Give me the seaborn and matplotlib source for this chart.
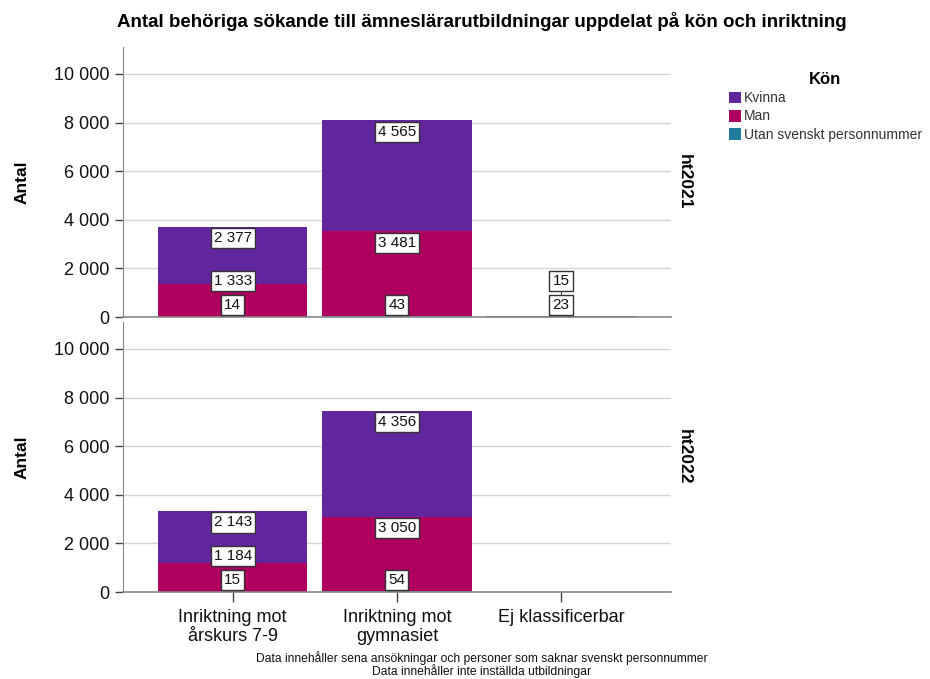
import matplotlib
matplotlib.use("Agg")
import matplotlib.pyplot as plt
from matplotlib.patches import Patch
import seaborn as sns
import numpy as np

sns.set_style("white")
plt.rcParams['font.family'] = ['Liberation Sans', 'DejaVu Sans']
plt.rcParams['text.color'] = 'black'
plt.rcParams['axes.labelcolor'] = 'black'

# Data
categories = ["Inriktning mot\nårskurs 7-9", "Inriktning mot\ngymnasiet", "Ej klassificerbar"]
years = ["ht2021", "ht2022"]
levels = ["Kvinna", "Man", "Utan svenskt personnummer"]
colors = {"Kvinna": "#61269E", "Man": "#AF0060", "Utan svenskt personnummer": "#1F7A9C"}

utan = {"ht2021": [14, 43, 0], "ht2022": [15, 54, 0]}
man = {"ht2021": [1333, 3481, 23], "ht2022": [1184, 3050, 0]}
kvinna = {"ht2021": [2377, 4565, 15], "ht2022": [2143, 4356, 0]}

fig = plt.figure(figsize=(9.3, 6.79), dpi=100)
ax_top = fig.add_axes([0.132, 0.533, 0.5895, 0.3976])
ax_bot = fig.add_axes([0.132, 0.128, 0.5895, 0.3976])


def fmt(v):
    return f"{v:,.0f}".replace(",", " ")


for ax, yr in zip([ax_top, ax_bot], years):
    u = np.array(utan[yr])
    m = np.array(man[yr])
    k = np.array(kvinna[yr])
    stacks = [("Kvinna", u + m + k), ("Man", u + m), ("Utan svenskt personnummer", u)]
    for lvl, h in stacks:
        sns.barplot(x=categories, y=h, color=colors[lvl], width=0.91, linewidth=0,
                    saturation=1, ax=ax, zorder=2)

    # data labels
    for i in range(len(categories)):
        prev = None
        cum = 0
        for val in [u[i], m[i], k[i]]:
            if val <= 0:
                continue
            cum += val
            y = max(cum - 480, 500)
            if prev is not None and y < prev + 950:
                y = prev + 1000
                ax.plot([i, i], [prev, y], color="#444", lw=0.8, zorder=3)
            ax.text(i, y, fmt(val), ha="center", va="center", fontsize=11, color="#111",
                    zorder=4, bbox=dict(boxstyle="square,pad=0.2", fc="white", ec="#333", lw=1))
            prev = y

    ax.set_xlim(-0.67, 2.67)
    ax.set_ylim(0, 11100)
    ax.set_yticks([0, 2000, 4000, 6000, 8000, 10000])
    ax.set_yticklabels([fmt(v) for v in [0, 2000, 4000, 6000, 8000, 10000]], fontsize=13, color="#111")
    ax.yaxis.grid(True, color="#d4d4d4", lw=1, zorder=0)
    ax.set_axisbelow(True)
    ax.tick_params(axis="y", left=True, length=6, color="#444", width=1)
    for s in ["top", "right"]:
        ax.spines[s].set_visible(False)
    ax.spines["left"].set_color("#888")
    ax.spines["bottom"].set_color("#888")
    ax.spines["bottom"].set_linewidth(1.2)
    ax.set_ylabel("Antal", fontsize=12.5, fontweight="bold", labelpad=18)
    ax.text(1.01, 0.5, yr, transform=ax.transAxes, rotation=270, ha="left", va="center",
            fontsize=12.5, fontweight="bold")

ax_top.set_xticks([])
ax_top.set_xlabel("")
ax_bot.set_xticks(range(len(categories)))
ax_bot.set_xticklabels(categories, fontsize=13, linespacing=1.2, color="#111")
ax_bot.tick_params(axis="x", bottom=True, length=7, color="#444", width=1, pad=5)
ax_bot.set_xlabel("")

fig.text(0.518, 0.968, "Antal behöriga sökande till ämneslärarutbildningar uppdelat på kön och inriktning",
         ha="center", va="center", fontsize=13.5, fontweight="bold")

handles = [Patch(facecolor=colors[l], edgecolor="none") for l in levels]
leg = fig.legend(handles, levels, loc="upper left", bbox_to_anchor=(0.778, 0.902),
                 frameon=False, fontsize=10, title="Kön", handlelength=0.85, handleheight=0.95,
                 handletextpad=0.2, labelspacing=0.3, borderaxespad=0)
leg.get_title().set_fontweight("bold")
leg.get_title().set_fontsize(12)
for t in leg.get_texts():
    t.set_color("#333")

fig.text(0.518, 0.021, "Data innehåller sena ansökningar och personer som saknar svenskt personnummer\n"
         "Data innehåller inte inställda utbildningar", ha="center", va="center", fontsize=8.7,
         linespacing=0.95, color="#111")

fig.savefig("out.png", dpi=100)
